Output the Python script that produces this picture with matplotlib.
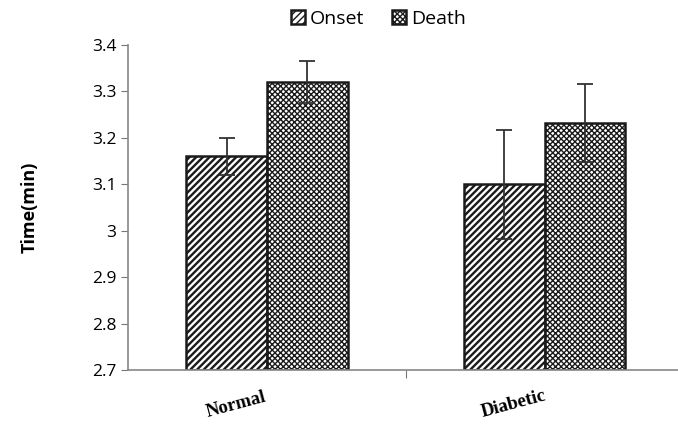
import numpy as np
import matplotlib.pyplot as plt
from matplotlib.transforms import blended_transform_factory

plt.rcParams['font.family'] = ['Open Sans', 'DejaVu Sans']

categories = ['Normal', 'Diabetic']
series = ['Onset', 'Death']
onset = [3.16, 3.10]
onset_err = [0.04, 0.117]
death = [3.32, 3.232]
death_err = [0.045, 0.085]
y_ticks = [2.7, 2.8, 2.9, 3.0, 3.1, 3.2, 3.3, 3.4]
y_tick_labels = ['2.7', '2.8', '2.9', '3', '3.1', '3.2', '3.3', '3.4']

fig = plt.figure(figsize=(6.78, 4.24), dpi=100)
ax = fig.add_axes([0.189, 0.127, 0.811, 0.767])

x = np.arange(len(categories))
w = 0.29
bottom = 2.7
ekw = dict(ecolor='#333333', elinewidth=1.3, capsize=6, capthick=1.3)
b1 = ax.bar(x - w / 2, np.array(onset) - bottom, w, bottom=bottom, color='white',
            edgecolor='#1a1a1a', linewidth=1.8, hatch='/////', label=series[0],
            yerr=onset_err, error_kw=ekw)
b2 = ax.bar(x + w / 2, np.array(death) - bottom, w, bottom=bottom, color='white',
            edgecolor='#1a1a1a', linewidth=1.8, hatch='xxxxxx', label=series[1],
            yerr=death_err, error_kw=ekw)
for p in b1:
    if hasattr(p, 'set_hatch_linewidth'):
        p.set_hatch_linewidth(1.7)
for p in b2:
    if hasattr(p, 'set_hatch_linewidth'):
        p.set_hatch_linewidth(1.0)

ax.set_ylim(2.7, 3.4)
ax.set_xlim(-0.5, 1.48)
ax.set_yticks(y_ticks)
ax.set_yticklabels(y_tick_labels, fontsize=12.5)
ax.set_xticks([0.5])
ax.set_xticklabels([''])
ax.tick_params(axis='y', length=5, color='#777777')
ax.tick_params(axis='x', length=6, color='#777777')
for s in ['top', 'right']:
    ax.spines[s].set_visible(False)
for s in ['left', 'bottom']:
    ax.spines[s].set_color('#888888')
    ax.spines[s].set_linewidth(1.2)

ax.set_ylabel('Time(min)', fontsize=13, fontweight='bold', labelpad=38)

trans = blended_transform_factory(ax.transData, ax.transAxes)
for xi, name in zip(x, categories):
    ax.text(xi - 0.11, -0.105, name, transform=trans, ha='center', va='center',
            rotation=15, fontsize=13.5, fontweight='bold', family='Liberation Serif')

leg = ax.legend(loc='center', bbox_to_anchor=(0.455, 1.08), ncol=2, frameon=False,
                fontsize=14, handlelength=0.75, handleheight=0.75, handletextpad=0.25,
                columnspacing=1.4)

fig.savefig('out.png', dpi=100)
